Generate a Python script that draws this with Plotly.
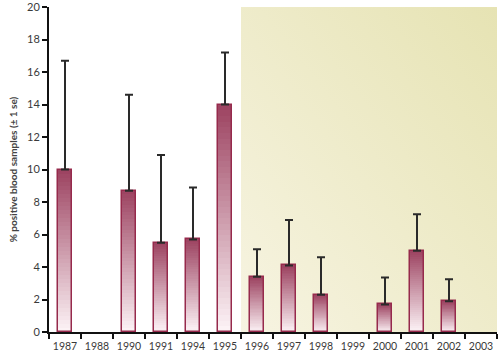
import plotly.graph_objects as go
import urllib.parse

years = ["1987", "1988", "1990", "1991", "1994", "1995", "1996", "1997",
         "1998", "1999", "2000", "2001", "2002", "2003"]
values = [10.0, None, 8.7, 5.5, 5.7, 14.0, 3.4, 4.1, 2.3, None, 1.7, 5.0, 1.9, None]
se_upper = [6.7, None, 5.9, 5.4, 3.2, 3.2, 1.7, 2.8, 2.3, None, 1.65, 2.25, 1.35, None]
y_ticks = [0, 2, 4, 6, 8, 10, 12, 14, 16, 18, 20]

FONT = "Lato"
BAR_W = 0.46
top_rgb = (0x9c, 0x42, 0x60)
bot_rgb = (0xfd, 0xf4, 0xf7)
N = 40

fig = go.Figure()

for k in range(N):
    t = (k + 0.5) / N  # 0 bottom, 1 top
    c = tuple(int(round(bot_rgb[i] + (top_rgb[i] - bot_rgb[i]) * t)) for i in range(3))
    fig.add_bar(
        x=years,
        y=[None if v is None else v / N * 1.02 for v in values],
        base=[None if v is None else v * k / N for v in values],
        width=BAR_W,
        marker=dict(color="rgb(%d,%d,%d)" % c, line=dict(width=0)),
        hoverinfo="skip",
        showlegend=False,
    )

fig.add_bar(
    x=years,
    y=values,
    width=BAR_W,
    marker=dict(color="rgba(0,0,0,0)", line=dict(color="#962a4c", width=1.5)),
    error_y=dict(type="data", symmetric=False, array=se_upper,
                 arrayminus=[0 if v is not None else None for v in values],
                 color="#2a2a2a", thickness=2, width=4),
    showlegend=False,
)

svg = ('<svg xmlns="http://www.w3.org/2000/svg" width="100" height="100" preserveAspectRatio="none">'
       '<defs><linearGradient id="g" x1="0" y1="1" x2="1" y2="0">'
       '<stop offset="0" stop-color="#f7f4e2"/><stop offset="1" stop-color="#e6e3b3"/>'
       '</linearGradient></defs><rect width="100" height="100" fill="url(#g)"/></svg>')
src = "data:image/svg+xml;charset=utf-8," + urllib.parse.quote(svg)

fig.update_layout(
    images=[dict(source=src, xref="x", yref="y", x=5.5, y=20, sizex=8.0, sizey=20,
                 sizing="stretch", layer="below", xanchor="left", yanchor="top")],
    barmode="overlay",
    bargap=0,
    width=500, height=353,
    margin=dict(l=49, r=3, t=7, b=21),
    paper_bgcolor="white", plot_bgcolor="white",
    font=dict(family=FONT, color="#3a3a3a", size=11),
    xaxis=dict(type="category", categoryorder="array", categoryarray=years,
               range=[-0.5, 13.5], showline=True, linecolor="#111111", linewidth=2,
               ticks="outside", tickson="boundaries", ticklen=5, tickwidth=2,
               tickcolor="#111111", showgrid=False, tickfont=dict(size=10.5),
               tickangle=0, automargin=False, ticklabelstandoff=3),
    yaxis=dict(range=[0, 20.001], tickvals=y_ticks, showline=True, linecolor="#111111",
               linewidth=2, ticks="outside", ticklen=5, tickwidth=2, tickcolor="#111111",
               showgrid=False, zeroline=False, tickfont=dict(size=11),
               ticklabeloverflow="allow", automargin=False,
               title=dict(text="<b>% positive blood samples (± 1 se)</b>",
                          font=dict(size=10, color="#444444"), standoff=8)),
)

fig.write_html("out.html")
